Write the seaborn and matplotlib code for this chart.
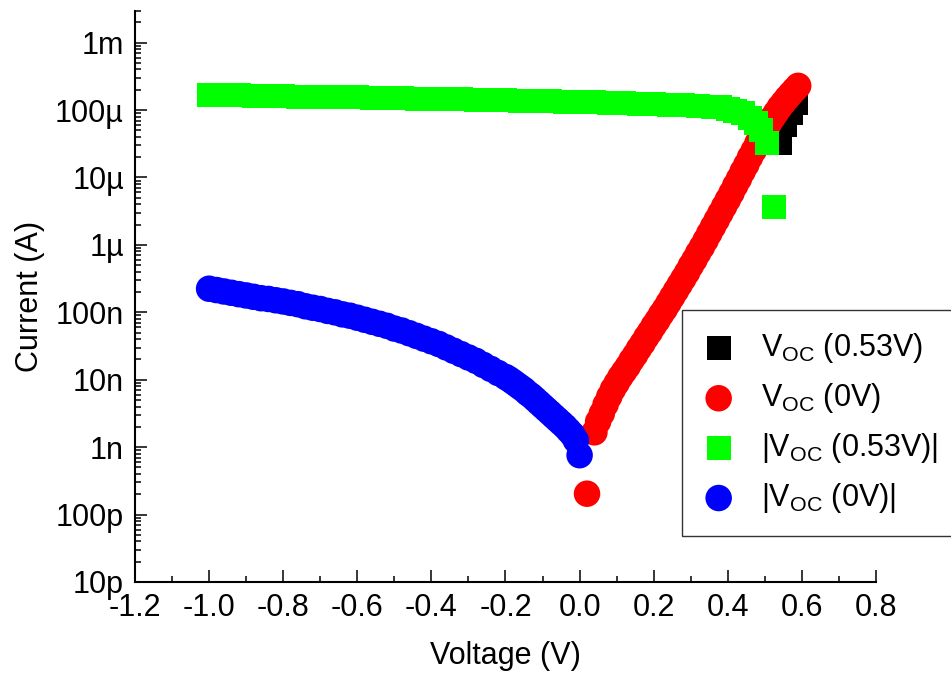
import numpy as np
import pandas as pd
import matplotlib
matplotlib.use("Agg")
import matplotlib.pyplot as plt
import seaborn as sns
from matplotlib.ticker import LogLocator, NullFormatter, MultipleLocator

# ---------------- data ----------------
# Voc (0.53V): current, only positive part visible on log scale
black_v = [0.54, 0.555, 0.57, 0.585]
black_i = [3.24e-5, 6.0e-5, 9.1e-5, 1.29e-4]

# Voc (0V): forward current
red_v = [0.02, 0.04, 0.05, 0.06, 0.07, 0.08, 0.09, 0.10, 0.11, 0.12,
         0.13, 0.14, 0.15, 0.16, 0.17, 0.18, 0.19, 0.20, 0.21, 0.22,
         0.23, 0.24, 0.25, 0.26, 0.27, 0.28, 0.29, 0.30, 0.31, 0.32,
         0.33, 0.34, 0.35, 0.36, 0.37, 0.38, 0.39, 0.40, 0.41, 0.42,
         0.43, 0.44, 0.45, 0.46, 0.47, 0.48, 0.49, 0.50, 0.51, 0.52,
         0.53, 0.54, 0.55, 0.56, 0.57, 0.58, 0.59]
red_i = [2.04e-10, 1.66e-9, 2.40e-9, 3.16e-9, 4.27e-9, 5.62e-9, 7.24e-9, 8.91e-9, 1.10e-8, 1.32e-8,
         1.58e-8, 1.95e-8, 2.34e-8, 2.88e-8, 3.47e-8, 4.27e-8, 5.13e-8, 6.31e-8, 7.59e-8, 9.33e-8,
         1.12e-7, 1.38e-7, 1.70e-7, 2.09e-7, 2.57e-7, 3.16e-7, 3.89e-7, 4.90e-7, 6.03e-7, 7.59e-7,
         9.33e-7, 1.17e-6, 1.48e-6, 1.86e-6, 2.34e-6, 2.95e-6, 3.72e-6, 4.68e-6, 5.89e-6, 7.59e-6,
         9.55e-6, 1.23e-5, 1.55e-5, 2.00e-5, 2.51e-5, 3.24e-5, 4.07e-5, 5.01e-5, 6.17e-5, 7.59e-5,
         9.12e-5, 1.10e-4, 1.29e-4, 1.51e-4, 1.74e-4, 2.00e-4, 2.29e-4]

# |Voc (0.53V)|
green_v = [-1.00, -0.96, -0.92, -0.88, -0.84, -0.80, -0.76, -0.72, -0.68, -0.64,
           -0.60, -0.56, -0.52, -0.48, -0.44, -0.40, -0.36, -0.32, -0.28, -0.24,
           -0.20, -0.16, -0.12, -0.08, -0.04, 0.00, 0.04, 0.08, 0.12, 0.16,
           0.20, 0.24, 0.28, 0.32, 0.36, 0.38, 0.40, 0.42, 0.44, 0.46,
           0.475, 0.49, 0.505, 0.525]
green_i = [1.68e-4, 1.66e-4, 1.65e-4, 1.64e-4, 1.62e-4, 1.61e-4, 1.59e-4, 1.58e-4, 1.56e-4, 1.55e-4,
           1.54e-4, 1.52e-4, 1.51e-4, 1.49e-4, 1.48e-4, 1.46e-4, 1.45e-4, 1.44e-4, 1.42e-4, 1.41e-4,
           1.39e-4, 1.38e-4, 1.36e-4, 1.35e-4, 1.33e-4, 1.32e-4, 1.30e-4, 1.28e-4, 1.26e-4, 1.24e-4,
           1.22e-4, 1.20e-4, 1.18e-4, 1.16e-4, 1.13e-4, 1.10e-4, 1.05e-4, 9.8e-5, 8.9e-5, 7.6e-5,
           6.46e-5, 5.13e-5, 3.24e-5, 3.63e-6]

# |Voc (0V)|
blue_v = [-1.00, -0.98, -0.96, -0.94, -0.92, -0.90, -0.88, -0.86, -0.84, -0.82,
          -0.80, -0.78, -0.76, -0.74, -0.72, -0.70, -0.68, -0.66, -0.64, -0.62,
          -0.60, -0.58, -0.56, -0.54, -0.52, -0.50, -0.48, -0.46, -0.44, -0.42,
          -0.40, -0.38, -0.36, -0.34, -0.32, -0.30, -0.28, -0.26, -0.24, -0.22,
          -0.20, -0.19, -0.18, -0.17, -0.16, -0.15, -0.14, -0.13, -0.12, -0.11,
          -0.10, -0.09, -0.08, -0.07, -0.06, -0.05, -0.04, -0.03, -0.02, -0.01,
          0.00]
blue_i = [2.24e-7, 2.14e-7, 2.04e-7, 1.95e-7, 1.86e-7, 1.78e-7, 1.70e-7, 1.62e-7, 1.58e-7, 1.51e-7,
          1.45e-7, 1.38e-7, 1.32e-7, 1.23e-7, 1.17e-7, 1.12e-7, 1.05e-7, 1.00e-7, 9.33e-8, 8.91e-8,
          8.32e-8, 7.76e-8, 7.24e-8, 6.76e-8, 6.31e-8, 5.75e-8, 5.37e-8, 4.90e-8, 4.47e-8, 4.07e-8,
          3.72e-8, 3.39e-8, 3.02e-8, 2.69e-8, 2.40e-8, 2.14e-8, 1.91e-8, 1.66e-8, 1.45e-8, 1.26e-8,
          1.10e-8, 1.02e-8, 9.33e-9, 8.51e-9, 7.76e-9, 7.08e-9, 6.31e-9, 5.75e-9, 5.13e-9, 4.57e-9,
          4.07e-9, 3.63e-9, 3.24e-9, 2.88e-9, 2.57e-9, 2.29e-9, 2.04e-9, 1.78e-9, 1.55e-9, 1.26e-9,
          7.6e-10]

series_labels = [r"$\mathregular{V_{OC}}$ (0.53V)",
                 r"$\mathregular{V_{OC}}$ (0V)",
                 r"|$\mathregular{V_{OC}}$ (0.53V)|",
                 r"|$\mathregular{V_{OC}}$ (0V)|"]

xtick_values = [-1.2, -1.0, -0.8, -0.6, -0.4, -0.2, 0.0, 0.2, 0.4, 0.6, 0.8]
xtick_labels = ["-1.2", "-1.0", "-0.8", "-0.6", "-0.4", "-0.2", "0.0", "0.2", "0.4", "0.6", "0.8"]
ytick_values = [1e-11, 1e-10, 1e-9, 1e-8, 1e-7, 1e-6, 1e-5, 1e-4, 1e-3]
ytick_labels = ["10p", "100p", "1n", "10n", "100n", "1\u00b5", "10\u00b5", "100\u00b5", "1m"]

# ---------------- styling ----------------
sns.set_theme(style="white", rc={
    "text.color": "black", "axes.labelcolor": "black",
    "xtick.color": "black", "ytick.color": "black",
    "axes.edgecolor": "black",
})
plt.rcParams["font.family"] = ["Liberation Sans", "DejaVu Sans"]
plt.rcParams["mathtext.fontset"] = "custom"
plt.rcParams["mathtext.rm"] = "Liberation Sans"
plt.rcParams["mathtext.it"] = "Liberation Sans"

FS = 22

fig = plt.figure(figsize=(9.51, 6.75), dpi=100)
ax = fig.add_axes([135 / 951, 93 / 675, (876 - 135) / 951, (582 - 10.5) / 675])

sq = (24 * 0.72) ** 2
ci = (26.5 * 0.72) ** 2
specs = [
    (black_v, black_i, "s", sq, "#000000"),
    (red_v, red_i, "o", ci, "#ff0000"),
    (green_v, green_i, "s", sq, "#00ff00"),
    (blue_v, blue_i, "o", ci, "#0000ff"),
]
for (xv, yv, mk, sz, col), lab in zip(specs, series_labels):
    df = pd.DataFrame({"V": xv, "I": yv})
    sns.scatterplot(data=df, x="V", y="I", marker=mk, s=sz, color=col,
                    linewidth=0, edgecolor="none", label=lab, ax=ax)

ax.set_yscale("log")
ax.set_xlim(-1.2, 0.8)
ax.set_ylim(1e-11, 3e-3)

ax.set_xticks(xtick_values)
ax.set_xticklabels(xtick_labels)
ax.xaxis.set_minor_locator(MultipleLocator(0.1))
ax.set_yticks(ytick_values)
ax.set_yticklabels(ytick_labels)
ax.yaxis.set_minor_locator(LogLocator(base=10, subs=np.arange(2, 10), numticks=100))
ax.yaxis.set_minor_formatter(NullFormatter())

ax.tick_params(which="major", direction="in", length=8.5, width=1.1, labelsize=FS, pad=8)
ax.tick_params(which="minor", direction="in", length=4.5, width=1.1)
ax.tick_params(axis="y", which="both", left=True, right=False)
ax.tick_params(axis="x", which="both", bottom=True, top=False)

sns.despine(ax=ax)
for side in ["left", "bottom"]:
    ax.spines[side].set_linewidth(1.5)
    ax.spines[side].set_color("black")

ax.set_xlabel("Voltage (V)", fontsize=FS, labelpad=13)
ax.set_ylabel("Current (A)", fontsize=FS, labelpad=7)

leg = ax.legend(loc="upper left", bbox_to_anchor=(682 / 951, 1 - 310 / 675),
                bbox_transform=fig.transFigure, frameon=True, fancybox=False,
                framealpha=1, edgecolor="#333333", fontsize=FS, borderpad=0.7,
                handlelength=1.0, handletextpad=0.9, labelspacing=0.52,
                borderaxespad=0)
leg.get_frame().set_linewidth(1.0)

fig.savefig("out.png", dpi=100)
